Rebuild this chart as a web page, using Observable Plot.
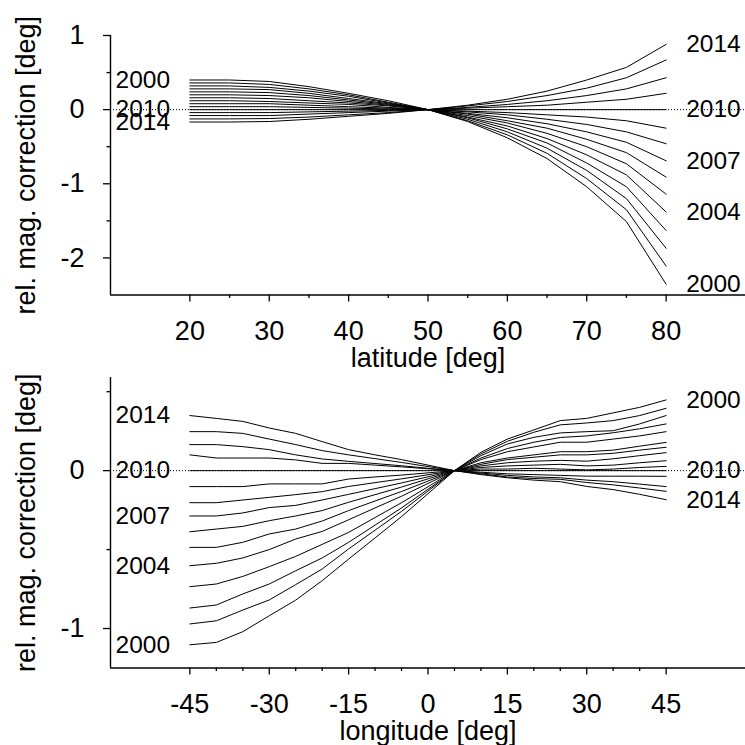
<!DOCTYPE html>
<html><head><meta charset="utf-8">
<script src="https://cdn.jsdelivr.net/npm/d3@7"></script>
<script src="https://cdn.jsdelivr.net/npm/@observablehq/plot@0.6"></script>
<style>
body{margin:0;background:#fff;}
#c{width:745px;height:745px;overflow:hidden;background:#fff}
#c svg{display:block;overflow:visible}
</style>
</head><body><div id="c"></div>
<script>
const years = [2000,2001,2002,2003,2004,2005,2006,2007,2008,2009,2010,2011,2012,2013,2014];

// latitude panel
const latitudes = [20,25,30,35,40,45,50,55,60,65,70,75,80];
const lat2000 = [0.40,0.40,0.38,0.31,0.22,0.12,0,-0.16,-0.38,-0.66,-1.04,-1.51,-2.355];
const lat2001 = [0.36,0.36,0.34,0.28,0.20,0.10,0,-0.15,-0.34,-0.59,-0.93,-1.35,-2.11];
const lat2002 = [0.32,0.32,0.30,0.25,0.18,0.09,0,-0.13,-0.30,-0.52,-0.82,-1.20,-1.87];
const lat2003 = [0.28,0.28,0.27,0.22,0.15,0.08,0,-0.11,-0.26,-0.45,-0.72,-1.04,-1.63];
const lat2004 = [0.24,0.24,0.23,0.19,0.13,0.07,0,-0.10,-0.22,-0.39,-0.61,-0.88,-1.38];
const lat2005 = [0.20,0.20,0.19,0.16,0.11,0.06,0,-0.08,-0.18,-0.32,-0.50,-0.73,-1.14];
const lat2006 = [0.16,0.16,0.15,0.12,0.09,0.05,0,-0.06,-0.15,-0.25,-0.40,-0.58,-0.91];
const lat2007 = [0.12,0.12,0.11,0.09,0.07,0.03,0,-0.05,-0.11,-0.19,-0.30,-0.44,-0.69];
const lat2008 = [0.08,0.08,0.08,0.06,0.04,0.02,0,-0.03,-0.07,-0.13,-0.20,-0.30,-0.46];
const lat2009 = [0.04,0.04,0.04,0.03,0.02,0.01,0,-0.02,-0.04,-0.07,-0.10,-0.15,-0.25];
const lat2010 = [0,0,0,0,0,0,0,0,0,0,0,0,0];
const lat2011 = [-0.04,-0.04,-0.04,-0.03,-0.02,-0.01,0,0.02,0.04,0.06,0.10,0.14,0.22];
const lat2012 = [-0.08,-0.08,-0.08,-0.06,-0.04,-0.02,0,0.03,0.07,0.12,0.19,0.28,0.43];
const lat2013 = [-0.125,-0.125,-0.12,-0.10,-0.07,-0.04,0,0.05,0.11,0.19,0.29,0.43,0.67];
const lat2014 = [-0.167,-0.167,-0.16,-0.13,-0.09,-0.05,0,0.06,0.14,0.25,0.40,0.57,0.88];
const latSeries = [lat2000,lat2001,lat2002,lat2003,lat2004,lat2005,lat2006,lat2007,lat2008,lat2009,lat2010,lat2011,lat2012,lat2013,lat2014];

// longitude panel
const longitudes = [-45,-40,-35,-30,-25,-20,-15,-10,-5,0,5,10,15,20,25,30,35,40,45];
const lon2000 = [-1.103,-1.088,-1.02,-0.919,-0.82,-0.697,-0.56,-0.426,-0.291,-0.146,0,0.116,0.2,0.258,0.317,0.331,0.366,0.401,0.448];
const lon2001 = [-0.971,-0.951,-0.883,-0.819,-0.722,-0.623,-0.496,-0.377,-0.258,-0.129,0,0.106,0.186,0.243,0.29,0.302,0.317,0.349,0.395];
const lon2002 = [-0.87,-0.851,-0.781,-0.718,-0.634,-0.553,-0.454,-0.345,-0.236,-0.118,0,0.095,0.169,0.211,0.239,0.247,0.253,0.296,0.349];
const lon2003 = [-0.735,-0.718,-0.67,-0.608,-0.543,-0.467,-0.391,-0.297,-0.203,-0.102,0,0.08,0.14,0.18,0.21,0.22,0.24,0.265,0.296];
const lon2004 = [-0.602,-0.587,-0.553,-0.5,-0.433,-0.385,-0.311,-0.236,-0.162,-0.081,0,0.07,0.12,0.15,0.18,0.18,0.2,0.22,0.247];
const lon2005 = [-0.486,-0.486,-0.454,-0.401,-0.37,-0.319,-0.253,-0.192,-0.132,-0.066,0,0.05,0.08,0.1,0.12,0.12,0.13,0.155,0.179];
const lon2006 = [-0.387,-0.37,-0.353,-0.317,-0.287,-0.253,-0.2,-0.152,-0.104,-0.052,0,0.04,0.07,0.085,0.1,0.1,0.11,0.13,0.148];
const lon2007 = [-0.287,-0.287,-0.268,-0.234,-0.22,-0.186,-0.15,-0.114,-0.078,-0.039,0,0.03,0.05,0.06,0.065,0.06,0.075,0.095,0.114];
const lon2008 = [-0.203,-0.203,-0.186,-0.169,-0.152,-0.133,-0.1,-0.076,-0.052,-0.026,0,0.02,0.03,0.035,0.04,0.03,0.035,0.05,0.063];
const lon2009 = [-0.101,-0.101,-0.101,-0.084,-0.084,-0.084,-0.053,-0.04,-0.028,-0.014,0,0.01,0.01,0.015,0.01,0.005,0.01,0.02,0.027];
const lon2010 = [0,0,0,0,0,0,0,0,0,0,0,0,0,0,0,0,0,0,0];
const lon2011 = [0.1,0.08,0.08,0.08,0.068,0.046,0.046,0.035,0.024,0.012,0,-0.01,-0.02,-0.025,-0.03,-0.035,-0.035,-0.035,-0.036];
const lon2012 = [0.165,0.165,0.152,0.133,0.1,0.074,0.059,0.045,0.031,0.015,0,-0.015,-0.03,-0.04,-0.045,-0.06,-0.07,-0.085,-0.101];
const lon2013 = [0.247,0.247,0.236,0.2,0.165,0.127,0.1,0.076,0.052,0.026,0,-0.02,-0.04,-0.05,-0.055,-0.075,-0.09,-0.11,-0.131];
const lon2014 = [0.349,0.331,0.312,0.27,0.236,0.184,0.133,0.1,0.07,0.035,0,-0.025,-0.045,-0.06,-0.07,-0.1,-0.12,-0.15,-0.184];
const lonSeries = [lon2000,lon2001,lon2002,lon2003,lon2004,lon2005,lon2006,lon2007,lon2008,lon2009,lon2010,lon2011,lon2012,lon2013,lon2014];

// labels
const latLeftLabels = [2000, 2010, 2014];
const latRightLabels = [2014, 2010, 2007, 2004, 2000];
const lonLeftLabels = [2014, 2010, 2007, 2004, 2000];
const lonRightLabels = [2000, 2010, 2014];

// ticks
const latTicks = [20,30,40,50,60,70,80];
const latMinor = [25,35,45,55,65,75];
const latYTicks = [-2,-1,0,1];
const latYMinor = [-1.5,-0.5,0.5];
const lonTicks = [-45,-30,-15,0,15,30,45];
const lonMinor = [-40,-35,-25,-20,-10,-5,5,10,20,25,35,40];
const lonYTicks = [-1,0];
const lonYMinor = [-0.5,0.5];

const yTitle = "rel. mag. correction [deg]";
const FONT = "'Liberation Sans', Arial, Helvetica, sans-serif";

function rows(xs, series) {
  return years.flatMap((yr, i) => series[i].map((v, j) => ({year: yr, x: xs[j], v})));
}
function labelRows(sel, xs, series, end) {
  return sel.map(yr => {
    const s = series[years.indexOf(yr)];
    const k = end ? s.length - 1 : 0;
    return {year: yr, x: xs[k], v: s[k]};
  });
}

function panel({xs, series, xDomain, yDomain, xTicks, xMinor, yTicks, yMinor, leftL, rightL, xTitle, height, marginTop, marginBottom}) {
  const data = rows(xs, series);
  const fmt = d => String(d);
  return Plot.plot({
    width: 745, height, marginTop, marginBottom, marginLeft: 110, marginRight: 0,
    style: {fontFamily: FONT, fontSize: "27px", color: "black", background: "white"},
    x: {domain: xDomain},
    y: {domain: yDomain},
    marks: [
      Plot.ruleY([0], {stroke: "black", strokeWidth: 1, strokeDasharray: "1,2"}),
      Plot.line(data, {x: "x", y: "v", z: "year", stroke: "black", strokeWidth: 1}),
      Plot.ruleX([xDomain[0]], {stroke: "black", strokeWidth: 1.4}),
      Plot.ruleY([yDomain[0]], {stroke: "black", strokeWidth: 1.4}),
      Plot.axisX({ticks: xTicks, tickSize: 7, tickPadding: 18.5, tickFormat: fmt, strokeWidth: 1.3, fontSize: 27, label: null}),
      Plot.axisX({ticks: xMinor, tickSize: 3.5, tickFormat: () => "", strokeWidth: 1.3, label: null}),
      Plot.axisY({ticks: yTicks, tickSize: 7, tickPadding: 19, tickFormat: fmt, strokeWidth: 1.3, fontSize: 27, label: null}),
      Plot.axisY({ticks: yMinor, tickSize: 3.5, tickFormat: () => "", strokeWidth: 1.3, label: null}),
      Plot.text(labelRows(leftL, xs, series, false), {x: () => xDomain[0], y: "v", text: d => String(d.year), textAnchor: "start", dx: 5, fontSize: 24.5, fill: "black"}),
      Plot.text(labelRows(rightL, xs, series, true), {x: "x", y: "v", text: d => String(d.year), textAnchor: "start", dx: 20, fontSize: 24.5, fill: "black"}),
      Plot.text([yTitle], {frameAnchor: "left", rotate: -90, dx: -84, textAnchor: "middle", lineAnchor: "middle", fontSize: 27, fill: "black"}),
      Plot.text([xTitle], {frameAnchor: "bottom", dy: 53, textAnchor: "middle", lineAnchor: "top", fontSize: 27, fill: "black"})
    ]
  });
}

const c = document.getElementById("c");
c.appendChild(panel({
  xs: latitudes, series: latSeries, xDomain: [10, 90], yDomain: [-2.5, 1],
  xTicks: latTicks, xMinor: latMinor, yTicks: latYTicks, yMinor: latYMinor,
  leftL: latLeftLabels, rightL: latRightLabels, xTitle: "latitude [deg]",
  height: 370, marginTop: 35, marginBottom: 75.5
}));
c.appendChild(panel({
  xs: longitudes, series: lonSeries, xDomain: [-60, 60], yDomain: [-1.25, 0.59],
  xTicks: lonTicks, xMinor: lonMinor, yTicks: lonYTicks, yMinor: lonYMinor,
  leftL: lonLeftLabels, rightL: lonRightLabels, xTitle: "longitude [deg]",
  height: 375, marginTop: 7, marginBottom: 77.5
}));
</script>
</body></html>
